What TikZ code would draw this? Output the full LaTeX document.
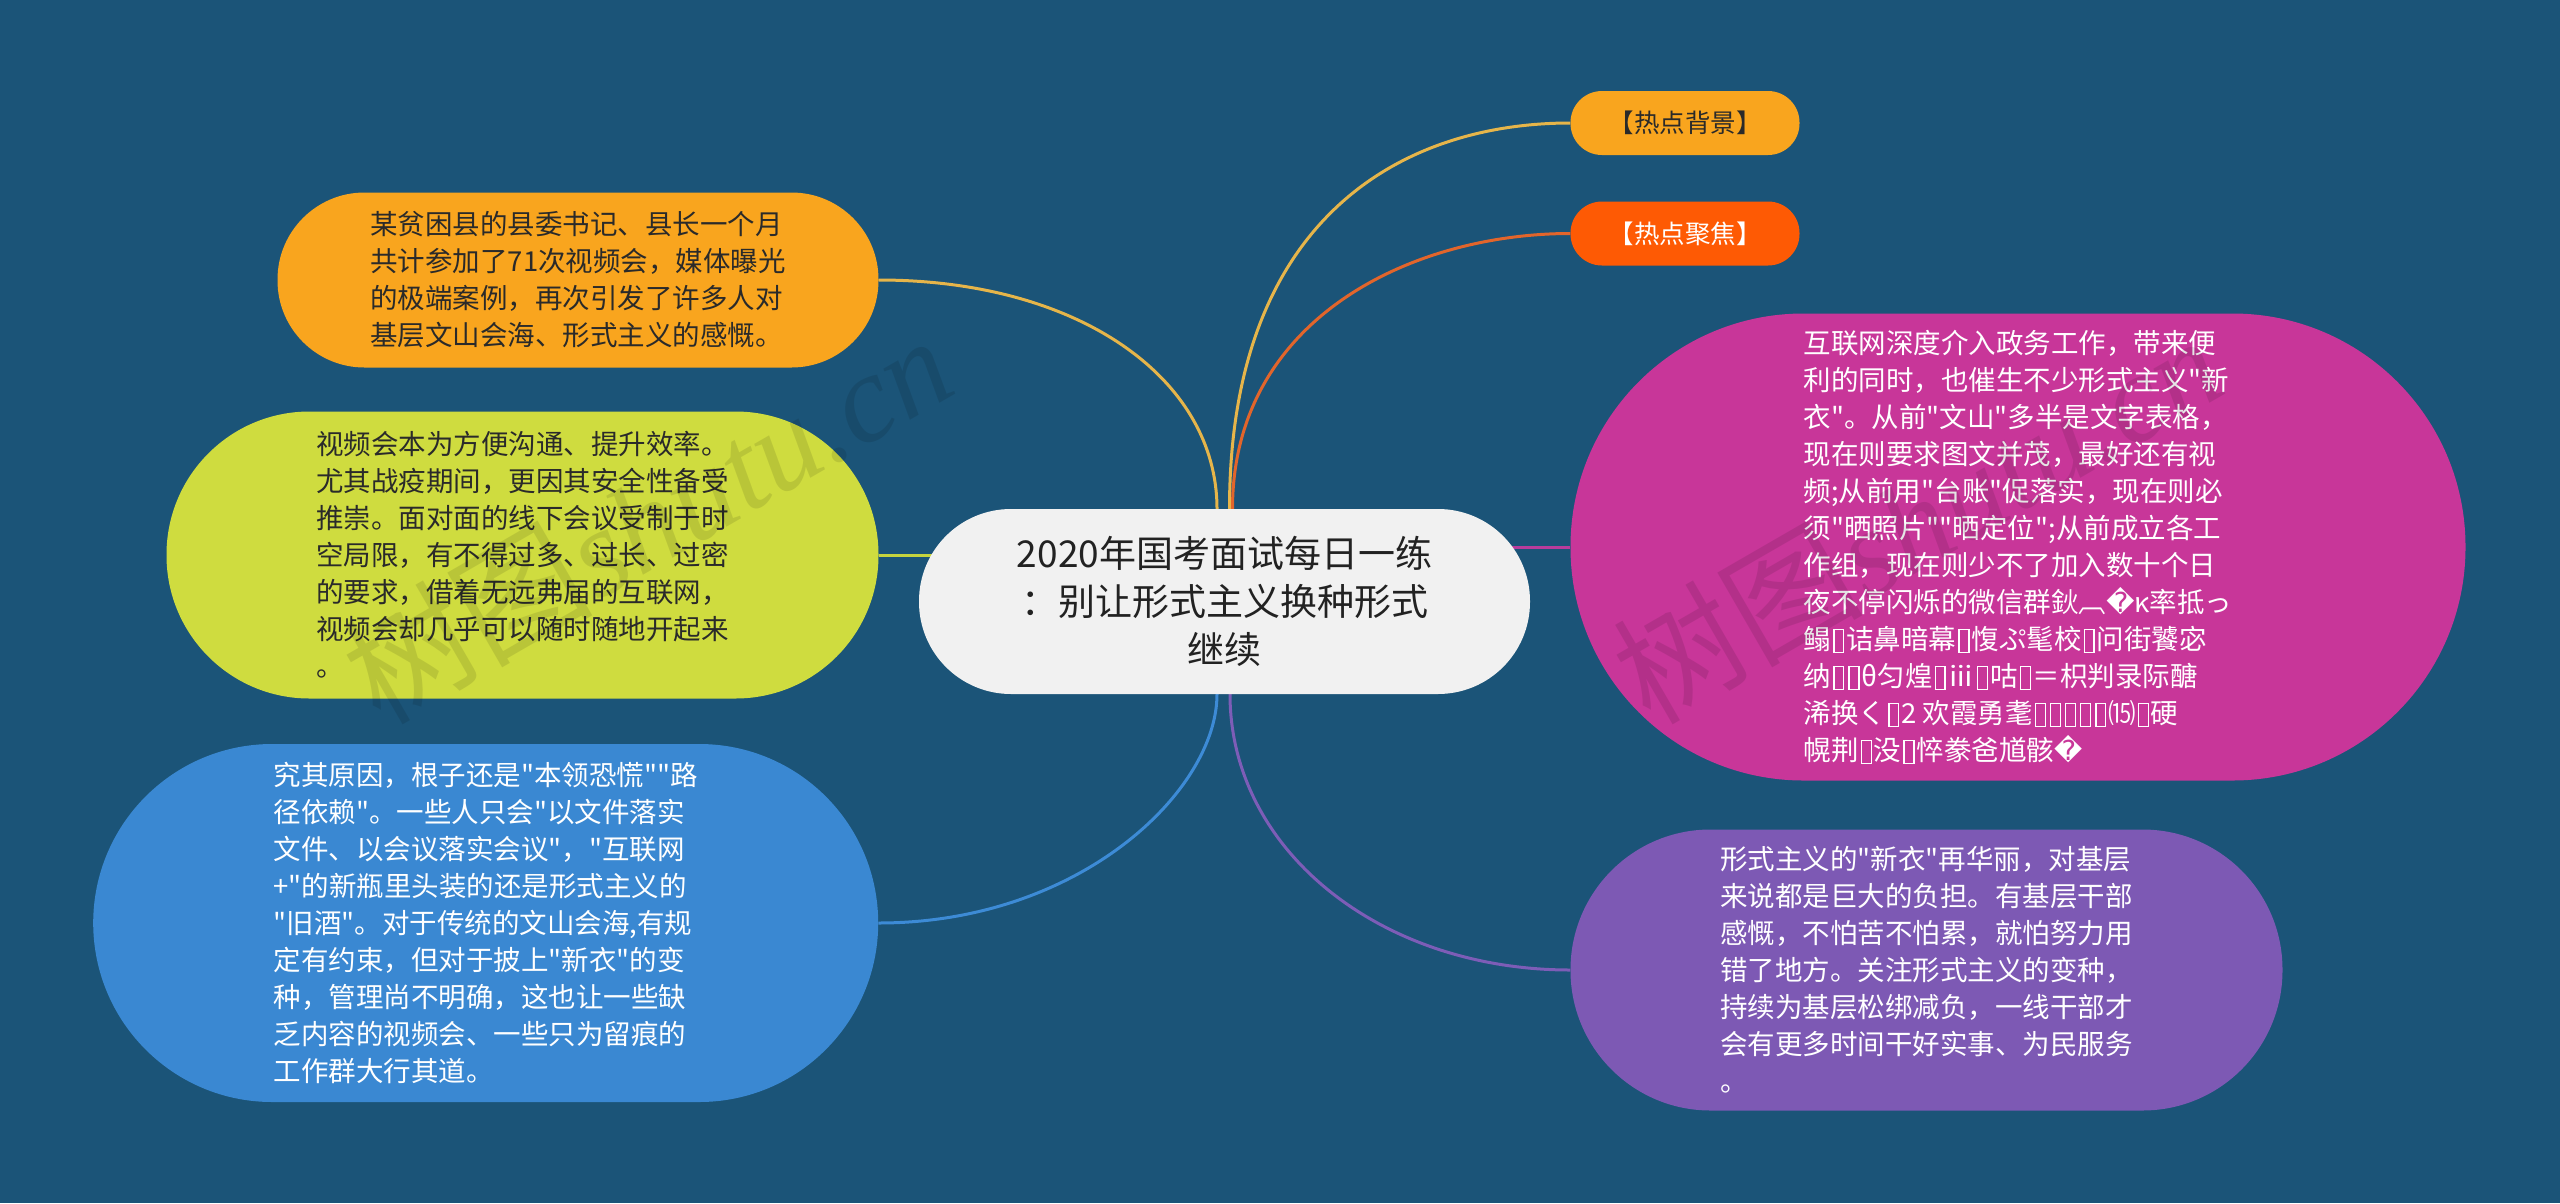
\documentclass[tikz,border=0pt]{standalone}
\usepackage{fontspec}
\setmainfont{Noto Sans CJK SC}[Ligatures=TeXOff]
\newfontfamily\dvfont{DejaVu Sans}
\newfontfamily\wmserif{Liberation Serif}
\usetikzlibrary{backgrounds}
\definecolor{bgc}{HTML}{1B5478}
\definecolor{cen}{HTML}{F1F1F1}
\definecolor{ctext}{HTML}{222222}
\definecolor{dtext}{HTML}{2A2A2A}
\definecolor{orangeY}{HTML}{F9A51E}
\definecolor{redO}{HTML}{FE5A04}
\definecolor{pinkc}{HTML}{C83699}
\definecolor{purplec}{HTML}{7D59B4}
\definecolor{ygc}{HTML}{CFDC3F}
\definecolor{bluec}{HTML}{3A88D2}
\definecolor{lkY}{HTML}{E6B54A}
\definecolor{lkR}{HTML}{E2652B}
\definecolor{lkG}{HTML}{C6D43E}
\definecolor{lkP}{HTML}{B83C9C}
\definecolor{lkB}{HTML}{3D8BD6}
\definecolor{lkV}{HTML}{7D5DB7}
\newcommand{\tofu}{\kern2pt\raisebox{-3pt}{\setlength{\fboxsep}{0pt}\setlength{\fboxrule}{1.3pt}\fbox{\rule{0pt}{22pt}\hspace{8.5pt}}}\kern2pt}
\newcommand{\repl}{{\dvfont �}}
\tikzset{
  bubble/.style={rectangle, inner sep=0pt, align=left, font=\fontsize{27.5}{37}\selectfont},
  tag/.style={rectangle, inner sep=0pt, align=center, minimum width=229pt, minimum height=64pt, rounded corners=31.5pt, font=\fontsize{25.5}{30}\selectfont},
  link/.style={line width=3pt},
  wm/.style={text=black, opacity=0.1, font=\fontsize{125}{130}\selectfont, rotate=30}
}
\begin{document}
\begin{tikzpicture}[x=1pt,y=-1pt]
\useasboundingbox (0,0) rectangle (2560,1203);

% central topic
\node[bubble, fill=cen, text=ctext, align=center, minimum width=611pt, minimum height=185pt, rounded corners=92pt, font=\fontsize{37}{48}\selectfont] (center) at (1224.5,601.5)
  {2020年国考面试每日一练\\：别让形式主义换种形式\\继续};

% right side
\node[tag, fill=orangeY, text=dtext] (bg) at (1685,123) {【热点背景】};
\node[tag, fill=redO, text=white] (jj) at (1685,233.5) {【热点聚焦】};

\node[bubble, fill=pinkc, text=white, minimum width=895pt, minimum height=467pt, rounded corners=233pt] (pk) at (2018,547) {%
互联网深度介入政务工作，带来便\\
利的同时，也催生不少形式主义"新\\
衣"。从前"文山"多半是文字表格，\\
现在则要求图文并茂，最好还有视\\
频;从前用"台账"促落实，现在则必\\
须"晒照片""晒定位";从前成立各工\\
作组，现在则少不了加入数十个日\\
夜不停闪烁的微信群鈥︹\repl κ率抵っ\\
鳎\tofu{}诘鼻暗幕\tofu{}愎ぷ髦校\tofu{}问街饕宓\\
纳\tofu\tofu{}θ匀煌\tofu{}ⅲ\tofu{}咕\tofu{}＝枳判录际醣\\
浠换く\tofu{}2 欢霞勇耄\tofu\tofu\tofu\tofu\tofu{}⒂\tofu{}硬\\
幌荆\tofu{}没\tofu{}悴豢爸馗骸\repl};

\node[bubble, fill=purplec, text=white, minimum width=712pt, minimum height=281pt, rounded corners=140pt] (pu) at (1926.5,970) {%
形式主义的"新衣"再华丽，对基层\\
来说都是巨大的负担。有基层干部\\
感慨，不怕苦不怕累，就怕努力用\\
错了地方。关注形式主义的变种，\\
持续为基层松绑减负，一线干部才\\
会有更多时间干好实事、为民服务\\
。};

% left side
\node[bubble, fill=orangeY, text=dtext, minimum width=601pt, minimum height=175pt, rounded corners=87pt] (ol) at (578,280) {%
某贫困县的县委书记、县长一个月\\
共计参加了71次视频会，媒体曝光\\
的极端案例，再次引发了许多人对\\
基层文山会海、形式主义的感慨。};

\node[bubble, fill=ygc, text=dtext, minimum width=712pt, minimum height=287pt, rounded corners=143pt] (yg) at (522.5,555) {%
视频会本为方便沟通、提升效率。\\
尤其战疫期间，更因其安全性备受\\
推崇。面对面的线下会议受制于时\\
空局限，有不得过多、过长、过密\\
的要求，借着无远弗届的互联网，\\
视频会却几乎可以随时随地开起来\\
。};

\node[bubble, fill=bluec, text=white, minimum width=785pt, minimum height=358pt, rounded corners=179pt] (bl) at (485.7,923) {%
究其原因，根子还是"本领恐慌""路\\
径依赖"。一些人只会"以文件落实\\
文件、以会议落实会议"，"互联网\\
+"的新瓶里头装的还是形式主义的\\
"旧酒"。对于传统的文山会海,有规\\
定有约束，但对于披上"新衣"的变\\
种，管理尚不明确，这也让一些缺\\
乏内容的视频会、一些只为留痕的\\
工作群大行其道。};

% watermarks
\node[wm] (wm1) at (647,518) {树图{\wmserif\itshape shutu.cn}};
\node[wm] (wm2) at (1917,518) {树图{\wmserif\itshape shutu.cn}};

% background and connectors
\begin{scope}[on background layer]
\fill[bgc] (0,0) rectangle (2560,1203);
\draw[link, draw=lkY] (ol.east) .. controls +(202,0) and +(0,-129) .. ([xshift=-7.5pt]center.north);
\draw[link, draw=lkY] ([xshift=5pt]center.north) .. controls +(0,-289) and +(-170,0) .. (bg.west);
\draw[link, draw=lkR] ([xshift=8pt]center.north) .. controls +(0,-189) and +(-160,0) .. (jj.west);
\draw[link, draw=lkG] (yg.east) -- (yg.east -| center.center);
\draw[link, draw=lkP] (pk.west) -- (pk.west -| center.center);
\draw[link, draw=lkB] (bl.east) .. controls +(202,0) and +(0,96) .. ([xshift=-7.5pt]center.south);
\draw[link, draw=lkV] ([xshift=5.5pt]center.south) .. controls +(0,156) and +(-190,0) .. (pu.west);
\end{scope}
\end{tikzpicture}
\end{document}
